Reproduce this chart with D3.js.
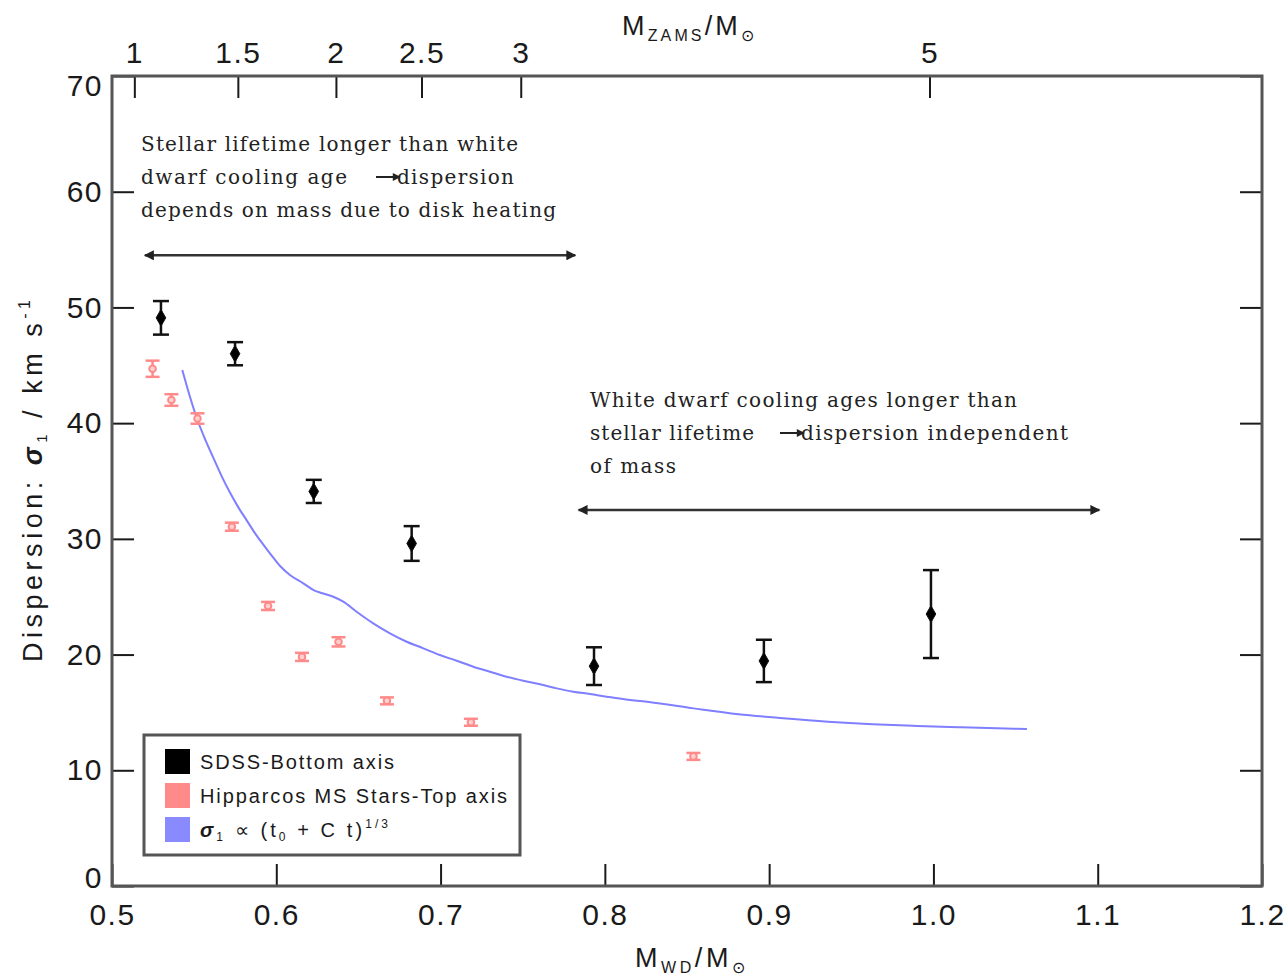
<!DOCTYPE html>
<html>
<head>
<meta charset="utf-8">
<script src="https://cdn.jsdelivr.net/npm/d3@7"></script>
<style>
  html, body { margin: 0; padding: 0; background: #fff; }
  svg { display: block; }
</style>
</head>
<body>
<svg id="chart" width="1285" height="976"></svg>
<script>
// ---- SDSS white dwarfs, plotted against the bottom axis (M_WD / M_sun) ----
const sdssMass  = [0.5298, 0.5749, 0.6228, 0.6824, 0.7934, 0.8968, 0.9985];
const sdssSigma = [49.1, 46.0, 34.1, 29.6, 19.0, 19.45, 23.5];
const sdssErr   = [1.45, 1.0, 1.0, 1.5, 1.63, 1.83, 3.8];

// ---- Hipparcos main-sequence stars, plotted against the top axis (M_ZAMS / M_sun) ----
const hipMass  = [1.088, 1.179, 1.305, 1.471, 1.654, 1.827, 2.015, 2.298, 2.749, 3.845];
const hipSigma = [44.7, 42.0, 40.4, 31.05, 24.2, 19.8, 21.1, 16.0, 14.15, 11.2];
const hipErr   = [0.7, 0.5, 0.45, 0.35, 0.35, 0.35, 0.4, 0.3, 0.3, 0.3];

// ---- Disk-heating model: sigma_1 ∝ (t0 + C t)^(1/3), as a function of M_WD ----
const modelMass  = [0.5428, 0.5470, 0.5517, 0.5567, 0.5617, 0.5668, 0.5718, 0.5770, 0.5820,
                    0.5870, 0.5921, 0.5972, 0.6023, 0.6083, 0.6164, 0.6230, 0.6280, 0.6347,
                    0.6408, 0.6489, 0.6590, 0.6692, 0.6794, 0.6895, 0.6996, 0.7098, 0.7199,
                    0.7301, 0.7402, 0.7503, 0.7605, 0.7707, 0.7808, 0.7909, 0.8011, 0.8153,
                    0.8268, 0.8541, 0.8813, 0.9086, 0.9358, 0.9630, 0.9903, 1.0173, 1.0569];
const modelSigma = [44.6, 42.5, 40.4, 38.6, 37.0, 35.4, 34.0, 32.7, 31.6,
                    30.5, 29.5, 28.55, 27.65, 26.88, 26.16, 25.55, 25.3, 25.0,
                    24.57, 23.7, 22.7, 21.84, 21.11, 20.54, 19.96, 19.47, 18.95,
                    18.52, 18.09, 17.74, 17.43, 17.08, 16.79, 16.59, 16.36, 16.07,
                    15.9, 15.35, 14.85, 14.5, 14.2, 13.98, 13.83, 13.71, 13.57];

// ---- Axis ticks ----
const xTicks = [0.5, 0.6, 0.7, 0.8, 0.9, 1.0, 1.1, 1.2];
const yTicks = [0, 10, 20, 30, 40, 50, 60, 70];
const topTickZams = [1, 1.5, 2, 2.5, 3, 5];
// white-dwarf mass reached by each initial mass (initial-final mass relation)
const topTickWd   = [0.5136, 0.5766, 0.6363, 0.6884, 0.7488, 0.9976];

// ---- Legend entries ----
const legendLabels = ["SDSS-Bottom axis", "Hipparcos MS Stars-Top axis", "model"];
const legendColors = ["#000000", "#ff8a8a", "#8a8aff"];
const legendWidths = [194, 307, 188];

// ---- Annotation text ----
const noteLeft  = ["Stellar lifetime longer than white", "dwarf cooling age", "dispersion",
                   "depends on mass due to disk heating"];
const noteRight = ["White dwarf cooling ages longer than", "stellar lifetime", "dispersion independent",
                   "of mass"];

const sansFont  = "'Liberation Sans', Arial, Helvetica, sans-serif";
const serifFont = "'DejaVu Serif', 'Liberation Serif', serif";
const ink = "#1a1a1a";
const pink = "#ff8a8a";
const blue = "#7f7fff";

const svg = d3.select("#chart");

const x = d3.scaleLinear().domain([0.5, 1.2]).range([112, 1262]);
const y = d3.scaleLinear().domain([0, 70]).range([886, 76]);
// top axis: initial mass placed at the white-dwarf mass it produces
const xTop = d3.scaleLinear().domain(topTickZams).range(topTickWd.map(x));

const tickLen = 22;

function styleAxis(g, fontSize) {
  g.select(".domain").remove();
  g.selectAll(".tick line").attr("stroke", ink).attr("stroke-width", 2);
  g.selectAll(".tick text")
    .attr("fill", ink)
    .style("font-family", sansFont)
    .style("font-size", fontSize + "px")
    .style("letter-spacing", "1.5px");
}

// bottom axis
svg.append("g")
  .attr("transform", `translate(0,${y(0)})`)
  .call(d3.axisBottom(x).tickValues(xTicks).tickFormat(d3.format(".1f"))
    .tickSizeInner(-tickLen).tickSizeOuter(0).tickPadding(18))
  .call(g => styleAxis(g, 30));

// top axis
svg.append("g")
  .attr("transform", `translate(0,${y(70)})`)
  .call(d3.axisTop(xTop).tickValues(topTickZams).tickFormat(d => String(d))
    .tickSizeInner(-tickLen).tickSizeOuter(0).tickPadding(13))
  .call(g => styleAxis(g, 30));

// left axis
const gL = svg.append("g")
  .attr("transform", `translate(${x(0.5)},0)`)
  .call(d3.axisLeft(y).tickValues(yTicks).tickFormat(d3.format("d"))
    .tickSizeInner(-tickLen).tickSizeOuter(0).tickPadding(9))
  .call(g => styleAxis(g, 30));
// keep the end labels inside the frame height
gL.selectAll(".tick text").attr("dy", d => d === 70 ? "0.65em" : d === 0 ? "0.05em" : "0.32em");

// right axis (ticks only)
svg.append("g")
  .attr("transform", `translate(${x(1.2)},0)`)
  .call(d3.axisRight(y).tickValues(yTicks).tickFormat("")
    .tickSizeInner(-tickLen).tickSizeOuter(0))
  .call(g => styleAxis(g, 30));

// frame
svg.append("rect")
  .attr("x", x(0.5)).attr("y", y(70))
  .attr("width", x(1.2) - x(0.5)).attr("height", y(0) - y(70))
  .attr("fill", "none").attr("stroke", "#555").attr("stroke-width", 3);

// ---- axis titles ----
const titleSize = 27;
const bottomTitle = svg.append("text")
  .attr("x", 635).attr("y", 967)
  .attr("textLength", 110).attr("lengthAdjust", "spacing")
  .attr("fill", ink)
  .style("font-family", sansFont).style("font-size", titleSize + "px");
bottomTitle.append("tspan").text("M");
bottomTitle.append("tspan").attr("dy", 6).style("font-size", "16px").text("WD");
bottomTitle.append("tspan").attr("dy", -6).text("/M");
bottomTitle.append("tspan").attr("dy", 6).style("font-size", "16px").text("⊙");

const topTitle = svg.append("text")
  .attr("x", 622).attr("y", 35)
  .attr("textLength", 132).attr("lengthAdjust", "spacing")
  .attr("fill", ink)
  .style("font-family", sansFont).style("font-size", titleSize + "px");
topTitle.append("tspan").text("M");
topTitle.append("tspan").attr("dy", 6).style("font-size", "16px").text("ZAMS");
topTitle.append("tspan").attr("dy", -6).text("/M");
topTitle.append("tspan").attr("dy", 6).style("font-size", "16px").text("⊙");

const yTitle = svg.append("text")
  .attr("transform", "translate(42,662) rotate(-90)")
  .attr("textLength", 362).attr("lengthAdjust", "spacing")
  .attr("fill", ink)
  .style("font-family", sansFont).style("font-size", titleSize + "px");
yTitle.append("tspan").text("Dispersion: ");
yTitle.append("tspan").style("font-weight", "bold").style("font-style", "italic").text("σ");
yTitle.append("tspan").attr("dy", 5).style("font-size", "15px").text("1");
yTitle.append("tspan").attr("dy", -5).text("  /  km s");
yTitle.append("tspan").attr("dy", -12).style("font-size", "16px").text("-1");

// ---- model curve ----
const modelData = modelMass.map((m, i) => ({ m, s: modelSigma[i] }));
svg.append("path")
  .datum(modelData)
  .attr("fill", "none")
  .attr("stroke", blue)
  .attr("stroke-width", 2)
  .attr("d", d3.line().x(d => x(d.m)).y(d => y(d.s)).curve(d3.curveMonotoneX));

// ---- Hipparcos points with error bars ----
const hipData = hipMass.map((m, i) => ({ m, s: hipSigma[i], e: hipErr[i] }));
const hipG = svg.append("g").selectAll("g").data(hipData).join("g")
  .attr("transform", d => `translate(${xTop(d.m)},0)`)
  .attr("stroke", pink).attr("stroke-width", 2.5);
hipG.append("line").attr("y1", d => y(d.s - d.e)).attr("y2", d => y(d.s + d.e));
hipG.append("line").attr("x1", -7).attr("x2", 7).attr("y1", d => y(d.s + d.e)).attr("y2", d => y(d.s + d.e));
hipG.append("line").attr("x1", -7).attr("x2", 7).attr("y1", d => y(d.s - d.e)).attr("y2", d => y(d.s - d.e));
hipG.append("path")
  .attr("transform", d => `translate(0,${y(d.s)})`)
  .attr("d", d3.symbol(d3.symbolCircle, 34)())
  .attr("fill", "#ffd0d0").attr("stroke-width", 2);

// ---- SDSS points with error bars ----
const sdssData = sdssMass.map((m, i) => ({ m, s: sdssSigma[i], e: sdssErr[i] }));
const sdssG = svg.append("g").selectAll("g").data(sdssData).join("g")
  .attr("transform", d => `translate(${x(d.m)},0)`)
  .attr("stroke", "#111").attr("stroke-width", 2.5);
sdssG.append("line").attr("y1", d => y(d.s - d.e)).attr("y2", d => y(d.s + d.e));
sdssG.append("line").attr("x1", -8).attr("x2", 8).attr("y1", d => y(d.s + d.e)).attr("y2", d => y(d.s + d.e));
sdssG.append("line").attr("x1", -8).attr("x2", 8).attr("y1", d => y(d.s - d.e)).attr("y2", d => y(d.s - d.e));
sdssG.append("path")
  .attr("transform", d => `translate(0,${y(d.s)})`)
  .attr("d", d3.symbol(d3.symbolDiamond, 80)())
  .attr("fill", "#000").attr("stroke-width", 1);

// ---- annotations ----
const defs = svg.append("defs");
defs.append("marker")
  .attr("id", "head").attr("viewBox", "0 0 10 10")
  .attr("refX", 9).attr("refY", 5)
  .attr("markerWidth", 5).attr("markerHeight", 4)
  .attr("markerUnits", "strokeWidth")
  .attr("orient", "auto-start-reverse")
  .append("path").attr("d", "M0,0L10,5L0,10z").attr("fill", "#222");

function doubleArrow(m0, m1, s) {
  svg.append("line")
    .attr("x1", x(m0)).attr("x2", x(m1)).attr("y1", y(s)).attr("y2", y(s))
    .attr("stroke", "#333").attr("stroke-width", 2.5)
    .attr("marker-start", "url(#head)").attr("marker-end", "url(#head)");
}
doubleArrow(0.520, 0.782, 54.5);
doubleArrow(0.784, 1.101, 32.5);

function note(txt, px, py, width) {
  const t = svg.append("text")
    .attr("x", px).attr("y", py)
    .attr("fill", "#222")
    .style("font-family", serifFont).style("font-size", "20px")
    .text(txt);
  if (width) t.attr("textLength", width).attr("lengthAdjust", "spacing");
  return t;
}
function smallArrow(px, py) {
  svg.append("line")
    .attr("x1", px).attr("x2", px + 24).attr("y1", py).attr("y2", py)
    .attr("stroke", "#222").attr("stroke-width", 2)
    .attr("marker-end", "url(#head)");
}

note(noteLeft[0], 141, 151, 377);
note(noteLeft[1], 141, 184, 206);
smallArrow(376, 177);
note(noteLeft[2], 397, 184, 117);
note(noteLeft[3], 141, 217, 415);

note(noteRight[0], 590, 407, 427);
note(noteRight[1], 590, 440, 164);
smallArrow(780, 433);
note(noteRight[2], 801, 440, 267);
note(noteRight[3], 590, 473, 86);

// ---- legend ----
const legend = svg.append("g");
legend.append("rect")
  .attr("x", 144).attr("y", 735).attr("width", 376).attr("height", 120)
  .attr("fill", "#fff").attr("stroke", "#555").attr("stroke-width", 3);
const rows = legend.selectAll("g.row").data(legendLabels).join("g")
  .attr("class", "row")
  .attr("transform", (d, i) => `translate(165,${749 + i * 34})`);
rows.append("rect").attr("width", 25).attr("height", 25).attr("fill", (d, i) => legendColors[i]);
const legText = rows.append("text")
  .attr("x", 35).attr("y", 20)
  .attr("textLength", (d, i) => legendWidths[i]).attr("lengthAdjust", "spacing")
  .attr("fill", ink)
  .style("font-family", sansFont).style("font-size", "20px");
legText.filter((d, i) => i < 2).text(d => d);
// model entry: sigma_1 ∝ (t_0 + C t)^(1/3)
const modelText = legText.filter((d, i) => i === 2);
modelText.append("tspan").style("font-weight", "bold").style("font-style", "italic").text("σ");
modelText.append("tspan").attr("dy", 4).style("font-size", "12px").text("1");
modelText.append("tspan").attr("dy", -4).text(" ∝ (t");
modelText.append("tspan").attr("dy", 4).style("font-size", "12px").text("0");
modelText.append("tspan").attr("dy", -4).text(" + C t)");
modelText.append("tspan").attr("dy", -9).style("font-size", "12px").text("1/3");
</script>
</body>
</html>
